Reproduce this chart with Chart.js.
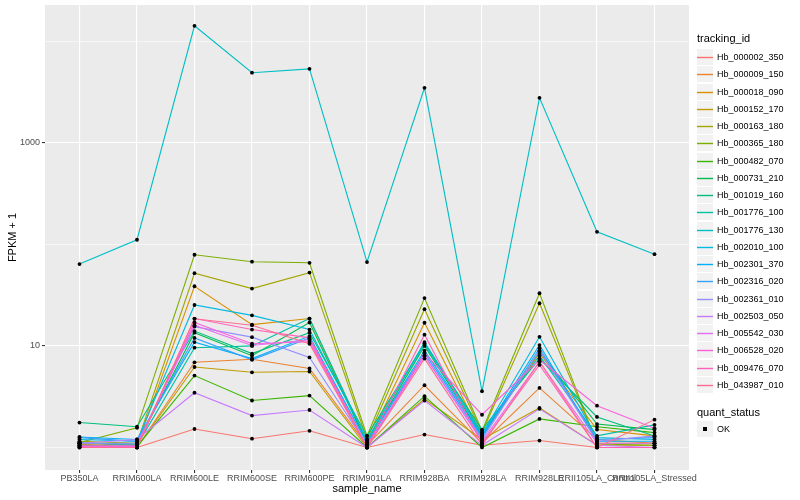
<!DOCTYPE html>
<html>
<head>
<meta charset="utf-8">
<script src="https://cdn.jsdelivr.net/npm/chart.js@4/dist/chart.umd.min.js"></script>
<style>
  body { margin: 0; background: #fff; font-family: "Liberation Sans", Arial, sans-serif; }
  #wrap { position: relative; width: 800px; height: 500px; }
  #legend { position: absolute; left: 697px; top: 0; width: 103px; height: 500px; color: #000; }
  .ttl { position: absolute; left: 0; font-size: 11px; line-height: 14px; }
  .lbl { position: absolute; left: 20px; font-size: 9px; line-height: 12px; }
</style>
</head>
<body>
<div id="wrap">
  <canvas id="c" width="800" height="500"></canvas>
  <div id="legend"></div>
</div>
<script>
const samples = ['PB350LA', 'RRIM600LA', 'RRIM600LE', 'RRIM600SE', 'RRIM600PE', 'RRIM901LA',
  'RRIM928BA', 'RRIM928LA', 'RRIM928LE', 'RRII105LA_Control', 'RRII105LA_Stressed'];

const trackingIds = ['Hb_000002_350', 'Hb_000009_150', 'Hb_000018_090', 'Hb_000152_170', 'Hb_000163_180',
  'Hb_000365_180', 'Hb_000482_070', 'Hb_000731_210', 'Hb_001019_160', 'Hb_001776_100',
  'Hb_001776_130', 'Hb_002010_100', 'Hb_002301_370', 'Hb_002316_020', 'Hb_002361_010',
  'Hb_002503_050', 'Hb_005542_030', 'Hb_006528_020', 'Hb_009476_070', 'Hb_043987_010'];

const colors = ['#F8766D', '#EA8331', '#D89000', '#C09B00', '#A3A500', '#7CAE00', '#39B600', '#00BB4E',
  '#00BF7D', '#00C1A3', '#00BFC4', '#00BAE0', '#00B0F6', '#35A2FF', '#9590FF', '#C77CFF',
  '#E76BF3', '#FA62DB', '#FF62BC', '#FF6C91'];

// FPKM + 1 per tracking id, one value per sample
const hb000002_350 = [1.0, 1.0, 1.52, 1.22, 1.46, 1.0, 1.34, 1.05, 1.17, 1.0, 1.0];
const hb000009_150 = [1.05, 1.0, 6.9, 7.4, 6.0, 1.05, 4.1, 1.1, 3.86, 1.2, 1.1];
const hb000018_090 = [1.1, 1.05, 38.7, 16.2, 18.6, 1.1, 16.9, 1.3, 8.5, 1.5, 1.3];
const hb000152_170 = [1.08, 1.0, 6.2, 5.5, 5.6, 1.0, 3.0, 1.2, 2.45, 1.05, 1.05];
const hb000163_180 = [1.15, 1.1, 52, 36.7, 52.7, 1.2, 23, 1.4, 26.3, 1.1, 1.1];
const hb000365_180 = [1.12, 1.56, 79, 67.5, 65.8, 1.3, 29.6, 1.45, 33, 1.08, 1.05];
const hb000482_070 = [1.05, 1.02, 5.1, 2.9, 3.24, 1.0, 3.2, 1.0, 1.91, 1.6, 1.4];
const hb000731_210 = [1.1, 1.08, 13.5, 8.0, 17.0, 1.1, 10.0, 1.3, 8.8, 1.7, 1.5];
const hb001019_160 = [1.76, 1.6, 14.0, 8.4, 13.5, 1.3, 10.5, 1.5, 7.5, 2.0, 1.3];
const hb001776_100 = [1.12, 1.05, 9.6, 10.0, 18.6, 1.15, 10.9, 1.4, 8.0, 1.3, 1.67];
const hb001776_130 = [64, 111, 14200, 4900, 5350, 67, 3480, 3.58, 2770, 133, 80];
const hb002010_100 = [1.2, 1.15, 25.3, 20.0, 14.5, 1.2, 10.5, 1.35, 12.3, 1.25, 1.2];
const hb002301_370 = [1.27, 1.2, 10.9, 7.5, 12.5, 1.1, 9.0, 1.3, 10.2, 1.15, 1.15];
const hb002316_020 = [1.25, 1.15, 12.0, 7.3, 12.0, 1.1, 8.5, 1.25, 9.5, 1.2, 1.25];
const hb002361_010 = [1.1, 1.1, 15.5, 12.2, 7.7, 1.05, 8.0, 1.2, 9.0, 1.15, 1.3];
const hb002503_050 = [1.1, 1.2, 3.46, 2.06, 2.34, 1.0, 2.9, 1.05, 2.4, 1.05, 1.0];
const hb005542_030 = [1.05, 1.05, 16.0, 10.1, 11.5, 1.0, 8.0, 1.15, 7.0, 1.1, 1.1];
const hb006528_020 = [1.02, 1.02, 17.0, 10.5, 11.0, 1.0, 8.5, 2.1, 7.3, 2.58, 1.55];
const hb009476_070 = [1.0, 1.0, 18.6, 14.5, 12.0, 1.02, 12.9, 1.1, 6.5, 1.0, 1.0];
const hb043987_010 = [1.0, 1.0, 18.5, 16.0, 10.5, 1.0, 7.5, 1.05, 7.0, 1.0, 1.88];

const series = [hb000002_350, hb000009_150, hb000018_090, hb000152_170, hb000163_180,
  hb000365_180, hb000482_070, hb000731_210, hb001019_160, hb001776_100,
  hb001776_130, hb002010_100, hb002301_370, hb002316_020, hb002361_010,
  hb002503_050, hb005542_030, hb006528_020, hb009476_070, hb043987_010];

const yGrid = [1, 10, 100, 1000, 10000];
const yLabels = ['', '10', '', '1000', ''];

Chart.defaults.font.family = '"Liberation Sans", Arial, sans-serif';
Chart.defaults.animation = false;

const toPoints = vals => vals.map((v, i) => ({ x: i, y: v }));

const datasets = series.map((vals, k) => ({
  label: trackingIds[k],
  data: toPoints(vals),
  borderColor: colors[k],
  borderWidth: 1.1,
  pointRadius: 0,
  fill: false,
  order: series.length - k,
}));
datasets.push({
  label: 'OK',
  data: series.flatMap(toPoints),
  showLine: false,
  pointRadius: 1.9,
  pointBorderWidth: 0,
  pointBackgroundColor: '#000',
  order: -1,
});

// legend geometry (keys drawn on the canvas, labels as html)
const keyX = 697, keyTop = 49, rowStep = 17.26, keySize = 16;
const rowTop = k => Math.round(keyTop + k * rowStep);
const okTop = 421;

const panelBg = {
  id: 'panelBg',
  beforeDraw(chart) {
    const { ctx, chartArea: a } = chart;
    ctx.save();
    ctx.fillStyle = '#EBEBEB';
    ctx.fillRect(a.left, a.top, a.right - a.left, a.bottom - a.top);
    ctx.restore();
  },
  afterDraw(chart) {
    const ctx = chart.ctx;
    ctx.save();
    ctx.lineWidth = 1.4;
    colors.forEach((c, k) => {
      const t = rowTop(k);
      ctx.fillStyle = '#F2F2F2';
      ctx.fillRect(keyX, t, keySize, keySize);
      ctx.strokeStyle = c;
      ctx.beginPath();
      ctx.moveTo(keyX, t + 8.5);
      ctx.lineTo(keyX + keySize, t + 8.5);
      ctx.stroke();
    });
    ctx.fillStyle = '#F2F2F2';
    ctx.fillRect(keyX, okTop, keySize, keySize);
    ctx.fillStyle = '#000';
    ctx.fillRect(keyX + 6, okTop + 6, 4, 4);
    ctx.restore();
  }
};

new Chart(document.getElementById('c'), {
  type: 'line',
  data: { datasets },
  plugins: [panelBg],
  options: {
    responsive: false,
    layout: { padding: { top: 5, right: 111, bottom: 4, left: 0 } },
    plugins: { legend: { display: false }, tooltip: { enabled: false } },
    scales: {
      x: {
        type: 'linear',
        min: -0.6,
        max: samples.length - 1 + 0.6,
        afterBuildTicks: s => { s.ticks = samples.map((_, i) => ({ value: i })); },
        afterFit: s => { s.height = 26; s.paddingLeft = 0; s.paddingRight = 0; },
        ticks: {
          autoSkip: false, maxRotation: 0, padding: 0,
          color: '#4D4D4D', font: { size: 9 },
          callback: v => samples[v] ?? ''
        },
        grid: { color: '#FFFFFF', lineWidth: 1.1, tickLength: 3, tickColor: '#333333' },
        border: { display: false },
        title: { display: true, text: 'sample_name', color: '#000', font: { size: 11 }, padding: { top: 0, bottom: 0 } }
      },
      y: {
        type: 'logarithmic',
        min: Math.pow(10, -0.2075),
        max: Math.pow(10, 4.357),
        afterBuildTicks: s => { s.ticks = yGrid.map(v => ({ value: v })); },
        afterFit: s => { s.width = 45; s.paddingTop = 0; s.paddingBottom = 0; },
        ticks: {
          padding: 2, color: '#4D4D4D', font: { size: 9 },
          callback: (v, i) => yLabels[i]
        },
        grid: {
          color: '#FFFFFF',
          lineWidth: c => (yLabels[c.index] ? 1.1 : 0.55),
          tickLength: 3,
          tickColor: c => (yLabels[c.index] ? '#333333' : 'rgba(0,0,0,0)')
        },
        border: { display: false },
        title: { display: true, text: 'FPKM + 1', color: '#000', font: { size: 11 }, padding: { top: 6, bottom: 0 } }
      }
    }
  }
});

// legend text
const leg = document.getElementById('legend');
let html = '<div class="ttl" style="top:31px">tracking_id</div>';
trackingIds.forEach((id, k) => {
  html += `<span class="lbl" style="top:${rowTop(k) + 2}px">${id}</span>`;
});
html += '<div class="ttl" style="top:405px">quant_status</div>';
html += `<span class="lbl" style="top:${okTop + 2}px">OK</span>`;
leg.innerHTML = html;
</script>
</body>
</html>
